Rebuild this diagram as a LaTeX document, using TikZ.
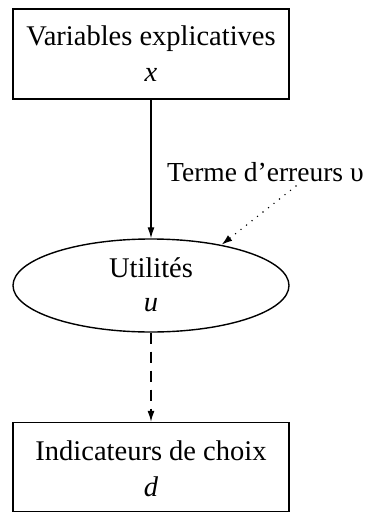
\documentclass[tikz,border=0pt]{standalone}
\usepackage{fontspec}
\setmainfont{Liberation Serif}
\usetikzlibrary{shapes.geometric,arrows.meta}
\begin{document}
\begin{tikzpicture}[x=1pt,y=-1pt,
  frame/.style={draw,line width=1.4pt,minimum width=276pt,inner sep=0pt},
  txt/.style={anchor=base,inner sep=0pt,font=\fontsize{28.5}{34}\selectfont},
  arr/.style={line width=1.2pt,-{Latex[length=11pt,width=7pt]}}]
\useasboundingbox (0,0) rectangle (376,514);
\node[frame,rectangle,minimum height=90pt] (vx) at (151,54) {};
\node[txt] (vxa) at (151,45) {Variables explicatives};
\node[txt] (vxb) at (151,81) {\textit{x}};
\node[frame,ellipse,minimum height=93pt] (u) at (151,285.5) {};
\node[txt] (ua) at (151,277) {Utilités};
\node[txt] (ub) at (151,311) {\textit{u}};
\node[frame,rectangle,minimum height=89pt] (d) at (151,467) {};
\node[txt] (da) at (151,460) {Indicateurs de choix};
\node[txt] (db) at (151,496) {\textit{d}};
\node[txt,anchor=base west,font=\fontsize{27.5}{32}\selectfont] (err) at (167,181) {Terme d’erreurs υ};
\coordinate (ve) at (296,186);
\draw[arr] (vx.south) -- (u.north);
\draw[arr,dash pattern=on 11pt off 8pt] (u.south) -- (d.north);
\draw[line width=1.6pt,line cap=round,dash pattern=on 0pt off 7pt,-{Latex[length=11pt,width=7pt]}] (ve) -- (u.30);
\end{tikzpicture}
\end{document}
